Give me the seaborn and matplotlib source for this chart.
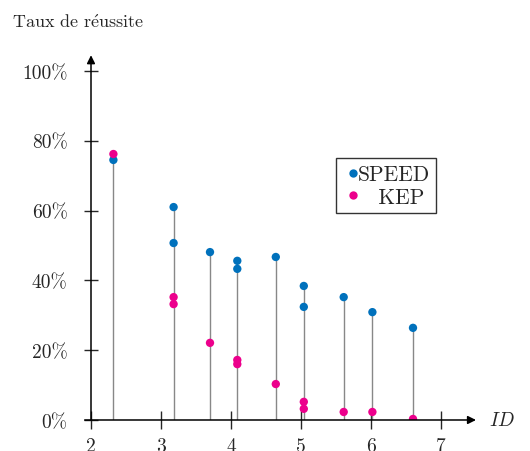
import matplotlib
matplotlib.use("Agg")
import matplotlib.pyplot as plt
import numpy as np
import pandas as pd
import seaborn as sns

# ID values (one stem per ID), success rates in %
speed_id = [2.32, 3.18, 3.18, 3.70, 4.09, 4.09, 4.64, 5.04, 5.04, 5.61, 6.02, 6.60]
speed_rate = [74.5, 61.0, 50.7, 48.1, 45.6, 43.3, 46.7, 38.4, 32.4, 35.2, 30.9, 26.4]
kep_id = [2.32, 3.18, 3.18, 3.70, 4.09, 4.09, 4.64, 5.04, 5.04, 5.61, 6.02, 6.60]
kep_rate = [76.2, 35.2, 33.2, 22.1, 17.2, 16.0, 10.3, 5.2, 3.2, 2.3, 2.3, 0.3]

x_ticks = [2, 3, 4, 5, 6, 7]
y_ticks = [0, 20, 40, 60, 80, 100]
y_labels = ["0%", "20%", "40%", "60%", "80%", "100%"]

BLUE = "#0071BC"
PINK = "#EC008C"


def main():
    sns.set_style("white")
    plt.rcParams["font.family"] = ["cmr10", "DejaVu Serif"]
    plt.rcParams["mathtext.fontset"] = "cm"
    plt.rcParams["axes.formatter.use_mathtext"] = True

    df = pd.DataFrame({
        "ID": speed_id + kep_id,
        "rate": speed_rate + kep_rate,
        "method": ["SPEED"] * len(speed_id) + ["KEP"] * len(kep_id),
    })
    stems = df.groupby("ID")["rate"].max()

    fig = plt.figure(figsize=(5.3, 4.52), dpi=100)
    ax = fig.add_axes([0.1717 - 0.09 * 70 / 530, 0.0686, 0.7264 + 0.09 * 70 / 530, 0.807])

    ax.vlines(stems.index, 0, stems.values, color="#888888", lw=1.0, zorder=1)
    sns.scatterplot(data=df, x="ID", y="rate", hue="method",
                    palette={"SPEED": BLUE, "KEP": PINK}, s=36,
                    edgecolor="none", ax=ax, zorder=3)

    ax.set_xlim(1.91, 7.5)
    ax.set_ylim(0, 104.5)
    for s in ax.spines.values():
        s.set_visible(False)

    # axes drawn as arrows
    ax.annotate("", xy=(7.5, 0), xytext=(1.91, 0),
                arrowprops=dict(arrowstyle="-|>", color="black", lw=1.1,
                                mutation_scale=12, shrinkA=0, shrinkB=0),
                annotation_clip=False)
    ax.annotate("", xy=(2, 104.5), xytext=(2, 0),
                arrowprops=dict(arrowstyle="-|>", color="black", lw=1.1,
                                mutation_scale=12, shrinkA=0, shrinkB=0),
                annotation_clip=False)

    ax.set_xticks(x_ticks)
    ax.set_xticklabels([str(v) for v in x_ticks])
    ax.set_yticks(y_ticks)
    ax.set_yticklabels(y_labels)
    ax.tick_params(axis="x", direction="inout", length=13, width=1.0,
                   labelsize=14, pad=6, bottom=True)
    ax.tick_params(axis="y", direction="inout", length=9.5, width=1.0,
                   labelsize=14, pad=12, left=True)
    ax.spines["left"].set_position(("data", 2))
    ax.spines["bottom"].set_position(("data", 0))
    ax.set_xlabel("")
    ax.set_ylabel("")

    fig.text(0.022, 0.952, r"Taux de r$\acute{\rm e}$ussite", fontsize=13,
             ha="left", va="center")
    ax.text(7.68, 0, r"$ID$", fontsize=14, ha="left", va="center")

    handles, labels = ax.get_legend_handles_labels()
    leg = ax.legend(handles, ["SPEED", "   KEP"], loc="upper left",
                    bbox_to_anchor=(0.642, 0.718), frameon=True,
                    fontsize=15.5, handletextpad=-0.3, handlelength=1.0,
                    borderpad=0.3, labelspacing=0.15, fancybox=False,
                    borderaxespad=0)
    leg.get_frame().set_edgecolor("black")
    leg.get_frame().set_linewidth(1.0)

    fig.savefig("out.png", dpi=100)


if __name__ == "__main__":
    main()
